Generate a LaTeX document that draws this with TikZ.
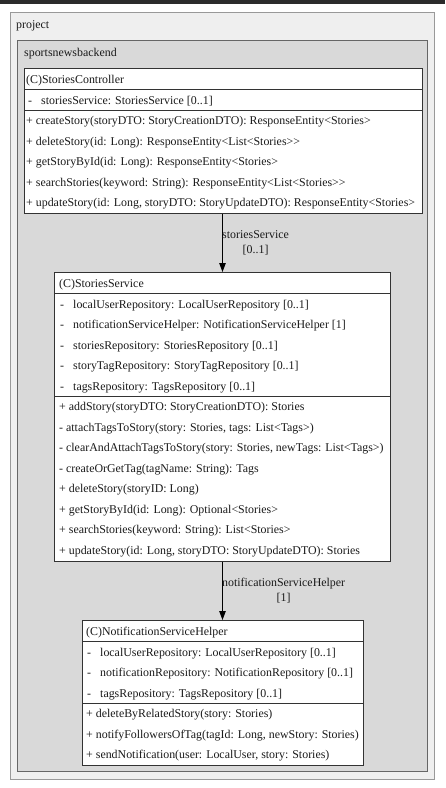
\documentclass[tikz,border=0pt]{standalone}
\usepackage{fontspec}
\setmainfont{Liberation Serif}
\usetikzlibrary{arrows.meta}
\definecolor{outerfill}{HTML}{EFEFEF}
\definecolor{outerline}{HTML}{999999}
\definecolor{innerfill}{HTML}{D9D9D9}
\definecolor{innerline}{HTML}{666666}
\definecolor{boxline}{HTML}{333333}
\definecolor{topband}{HTML}{2B2B2B}
\definecolor{txt}{HTML}{1A1A1A}
\tikzset{
  pkgouter/.style={draw=outerline, fill=outerfill, line width=1pt},
  pkginner/.style={draw=innerline, fill=innerfill, line width=1pt},
  classbox/.style={draw=boxline, fill=white, line width=1pt, rectangle, inner sep=0pt, anchor=north west},
  sepline/.style={draw=boxline, line width=0.8pt},
  rowtext/.style={anchor=base west, inner sep=0pt, text=txt, font=\fontsize{11.9}{14}\selectfont},
  lbl/.style={anchor=west, inner sep=0pt, align=center, text=txt, font=\fontsize{11.9}{15}\selectfont},
  assoc/.style={draw=black, line width=1pt, -{Triangle[length=9pt,width=6.5pt]}}
}
\begin{document}
\begin{tikzpicture}[x=1pt,y=-1pt]
\useasboundingbox (0,0) rectangle (445,788);
\fill[white] (0,0) rectangle (445,788);
\fill[topband] (0,0) rectangle (445,3.5);
% packages
\draw[pkgouter] (10,12) rectangle (434.5,779);
\node[rowtext] (pproject) at (16,28) {project};
\draw[pkginner] (17,40) rectangle (427,771.5);
\node[rowtext] (pbackend) at (24,56) {sportsnewsbackend};
% StoriesController
\node[classbox, minimum width=398pt, minimum height=144.5pt] (ctrl) at (24,68) {};
\draw[sepline] (24,89.5) -- (422,89.5);
\draw[sepline] (24,110) -- (422,110);
\node[rowtext] (ctrl-h) at (26,83) {(C)StoriesController};
\node[rowtext] (ctrl-a1d) at (28,104) {-};
\node[rowtext] (ctrl-a1) at (41,104) {storiesService: StoriesService [0..1]};
\node[rowtext] (ctrl-m1) at (26,124.5) {+ createStory(storyDTO: StoryCreationDTO): ResponseEntity<Stories>};
\node[rowtext] (ctrl-m2) at (26,145) {+ deleteStory(id: Long): ResponseEntity<List<Stories>\kern0pt>};
\node[rowtext] (ctrl-m3) at (26,165.5) {+ getStoryById(id: Long): ResponseEntity<Stories>};
\node[rowtext] (ctrl-m4) at (26,186) {+ searchStories(keyword: String): ResponseEntity<List<Stories>\kern0pt>};
\node[rowtext] (ctrl-m5) at (26,206.5) {+ updateStory(id: Long, storyDTO: StoryUpdateDTO): ResponseEntity<Stories>};
% StoriesService
\node[classbox, minimum width=336pt, minimum height=288.5pt] (svc) at (54,272) {};
\draw[sepline] (54,293.5) -- (390,293.5);
\draw[sepline] (54,396) -- (390,396);
\node[rowtext] (svc-h) at (59,287) {(C)StoriesService};
\node[rowtext] (svc-a1d) at (60,308) {-};
\node[rowtext] (svc-a1) at (73,308) {localUserRepository: LocalUserRepository [0..1]};
\node[rowtext] (svc-a2d) at (60,328.5) {-};
\node[rowtext] (svc-a2) at (73,328.5) {notificationServiceHelper: NotificationServiceHelper [1]};
\node[rowtext] (svc-a3d) at (60,349) {-};
\node[rowtext] (svc-a3) at (73,349) {storiesRepository: StoriesRepository [0..1]};
\node[rowtext] (svc-a4d) at (60,369.5) {-};
\node[rowtext] (svc-a4) at (73,369.5) {storyTagRepository: StoryTagRepository [0..1]};
\node[rowtext] (svc-a5d) at (60,390) {-};
\node[rowtext] (svc-a5) at (73,390) {tagsRepository: TagsRepository [0..1]};
\node[rowtext] (svc-m1) at (59,410.5) {+ addStory(storyDTO: StoryCreationDTO): Stories};
\node[rowtext] (svc-m2) at (59,431) {- attachTagsToStory(story: Stories, tags: List<Tags>)};
\node[rowtext] (svc-m3) at (59,451.5) {- clearAndAttachTagsToStory(story: Stories, newTags: List<Tags>)};
\node[rowtext] (svc-m4) at (59,472) {- createOrGetTag(tagName: String): Tags};
\node[rowtext] (svc-m5) at (59,492.5) {+ deleteStory(storyID: Long)};
\node[rowtext] (svc-m6) at (59,513) {+ getStoryById(id: Long): Optional<Stories>};
\node[rowtext] (svc-m7) at (59,533.5) {+ searchStories(keyword: String): List<Stories>};
\node[rowtext] (svc-m8) at (59,554) {+ updateStory(id: Long, storyDTO: StoryUpdateDTO): Stories};
% NotificationServiceHelper
\node[classbox, minimum width=281pt, minimum height=145pt] (ntf) at (82,620) {};
\draw[sepline] (82,641.5) -- (363,641.5);
\draw[sepline] (82,703.5) -- (363,703.5);
\node[rowtext] (ntf-h) at (86,635) {(C)NotificationServiceHelper};
\node[rowtext] (ntf-a1d) at (87,656) {-};
\node[rowtext] (ntf-a1) at (100,656) {localUserRepository: LocalUserRepository [0..1]};
\node[rowtext] (ntf-a2d) at (87,676.5) {-};
\node[rowtext] (ntf-a2) at (100,676.5) {notificationRepository: NotificationRepository [0..1]};
\node[rowtext] (ntf-a3d) at (87,697) {-};
\node[rowtext] (ntf-a3) at (100,697) {tagsRepository: TagsRepository [0..1]};
\node[rowtext] (ntf-m1) at (86,717.5) {+ deleteByRelatedStory(story: Stories)};
\node[rowtext] (ntf-m2) at (86,738) {+ notifyFollowersOfTag(tagId: Long, newStory: Stories)};
\node[rowtext] (ntf-m3) at (86,758.5) {+ sendNotification(user: LocalUser, story: Stories)};
% associations
\draw[assoc] (svc.north |- ctrl.south) -- (svc.north);
\node[lbl] (l1) at (222,243) {storiesService\\{[0..1]}};
\draw[assoc] (svc.south) -- (svc.south |- ntf.north);
\node[lbl] (l2) at (222,591) {notificationServiceHelper\\{[1]}};
\end{tikzpicture}
\end{document}
